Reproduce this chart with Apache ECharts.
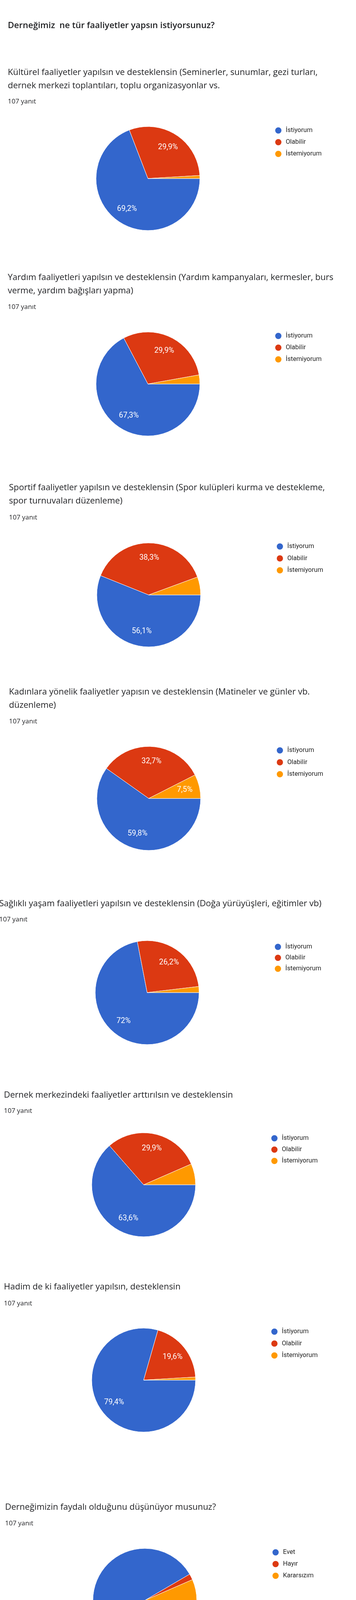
<!DOCTYPE html>
<html>
<head>
<meta charset="utf-8">
<script src="https://cdn.jsdelivr.net/npm/echarts@6/dist/echarts.min.js"></script>
<style>
  html, body { margin: 0; padding: 0; background: #fff; }
  #page { position: relative; width: 912px; height: 5297px; overflow: hidden; }
  .part { position: absolute; left: 0; width: 912px; }
</style>
</head>
<body>
<div id="page"></div>
<script>
// --- data ---
var pageTitle = 'Derneğimiz  ne tür faaliyetler yapsın istiyorsunuz?';

var questions = [
    'Kültürel faaliyetler yapılsın ve desteklensin (Seminerler, sunumlar, gezi turları,\ndernek merkezi toplantıları, toplu organizasyonlar vs.',
    'Yardım faaliyetleri yapılsın ve desteklensin (Yardım kampanyaları, kermesler, burs\nverme, yardım bağışları yapma)',
    'Sportif faaliyetler yapılsın ve desteklensin (Spor kulüpleri kurma ve destekleme,\nspor turnuvaları düzenleme)',
    'Kadınlara yönelik faaliyetler yapısın ve desteklensin (Matineler ve günler vb.\ndüzenleme)',
    'Sağlıklı yaşam faaliyetleri yapılsın ve desteklensin (Doğa yürüyüşleri, eğitimler vb)',
    'Dernek merkezindeki faaliyetler arttırılsın ve desteklensin',
    'Hadim de ki faaliyetler yapılsın, desteklensin',
    'Derneğimizin faydalı olduğunu düşünüyor musunuz?',
    'Derneğimize üye misiniz?',
    'Katılan Üye'
];
var responses = ['107 yanıt', '107 yanıt', '107 yanıt', '107 yanıt', '107 yanıt',
                 '107 yanıt', '107 yanıt', '107 yanıt', '99 yanıt', ''];

var faaliyetLabels = ['İstiyorum', 'Olabilir', 'İstemiyorum'];
var faydaLabels = ['Evet', 'Hayır', 'Kararsızım'];
var uyeLabels = ['Evet', 'Hayır'];
var katilanLabels = ['Katılan', 'Katılmayan'];

var kulturel = [74, 32, 1];
var yardim = [72, 32, 3];
var sportif = [60, 41, 6];
var kadin = [64, 35, 8];
var saglik = [77, 28, 2];
var merkez = [68, 32, 7];
var hadim = [85, 21, 1];
var fayda = [98, 2, 7];
var uye = [60, 39];
var katilan = [60, 241];

var chartNames = [faaliyetLabels, faaliyetLabels, faaliyetLabels, faaliyetLabels, faaliyetLabels,
                  faaliyetLabels, faaliyetLabels, faydaLabels, uyeLabels, katilanLabels];
var chartValues = [kulturel, yardim, sportif, kadin, saglik, merkez, hadim, fayda, uye, katilan];

// --- layout (page pixels) ---
var bounds = [0, 600, 1180, 1720, 2270, 2770, 3260, 3800, 4360, 4880, 5297];
var layout = [
    {x: 20, q: 169, n: 250, cx: 379, cy: 457, lx: 703, ly: 324, gap: 10},
    {x: 20, q: 694, n: 776, cx: 379, cy: 983, lx: 703, ly: 850, gap: 10},
    {x: 23, q: 1232, n: 1315, cx: 381, cy: 1523, lx: 707, ly: 1389, gap: 10.5},
    {x: 23, q: 1755, n: 1837, cx: 381, cy: 2044, lx: 707, ly: 1911, gap: 10.5},
    {x: -2, q: 2297, n: 2344, cx: 377, cy: 2541, lx: 702, ly: 2414, gap: 8},
    {x: 10, q: 2787, n: 2834, cx: 368, cy: 3033, lx: 693, ly: 2904, gap: 9},
    {x: 10, q: 3278, n: 3327, cx: 368, cy: 3533, lx: 693, ly: 3399, gap: 10.5},
    {x: 13, q: 3842, n: 3890, cx: 371, cy: 4097, lx: 696, ly: 3964, gap: 10},
    {x: 12, q: 4385, n: 4433, cx: 370, cy: 4639, lx: 695, ly: 4506, gap: 10},
    {x: 18, q: 4919, n: 0, cx: 355, cy: 5129, lx: 697, ly: 5008, gap: 19}
];

var googleColors = ['#3366cc', '#dc3912', '#ff9900'];
var excelColors = ['#0070c0', '#ff0000'];

function pctText(v, total) {
    var p = Math.round(v / total * 1000) / 10;
    return String(p).replace('.', ',') + '%';
}

var page = document.getElementById('page');

chartValues.forEach(function (vals, i) {
    var L = layout[i];
    var top0 = bounds[i];
    var names = chartNames[i];
    var excel = (i === 9);
    var colors = excel ? excelColors : googleColors;
    var total = vals.reduce(function (a, b) { return a + b; }, 0);
    var r = excel ? 132 : 133;

    var div = document.createElement('div');
    div.className = 'part';
    div.style.top = top0 + 'px';
    div.style.height = (bounds[i + 1] - top0) + 'px';
    page.appendChild(div);

    var titles = [];
    if (i === 0) {
        titles.push({
            text: pageTitle, left: 20, top: 52, padding: 0,
            textStyle: {fontFamily: 'Open Sans', fontSize: 22, fontWeight: 600, lineHeight: 28, color: '#202124'}
        });
    }
    titles.push({
        text: questions[i], left: L.x, top: L.q - top0, padding: 0,
        textStyle: excel
            ? {fontFamily: 'Open Sans', fontSize: 20, fontWeight: 'normal', lineHeight: 28, color: '#595959'}
            : {fontFamily: 'Open Sans', fontSize: 22, fontWeight: 'normal', lineHeight: 34, color: '#202124'}
    });
    if (responses[i]) {
        titles.push({
            text: responses[i], left: L.x, top: L.n - top0, padding: 0,
            textStyle: {fontFamily: 'Open Sans', fontSize: 17, fontWeight: 'normal', lineHeight: 20, color: '#202124'}
        });
    }

    var data = vals.map(function (v, k) {
        return {name: names[k], value: v, itemStyle: {color: colors[k]}};
    });

    var chart = echarts.init(div);
    chart.setOption({
        animation: false,
        backgroundColor: '#ffffff',
        title: titles,
        tooltip: {show: false},
        legend: {
            orient: 'vertical', left: L.lx, top: L.ly - top0, padding: 0,
            data: names, icon: 'circle',
            itemWidth: 18, itemHeight: 18, itemGap: L.gap,
            selectedMode: false,
            textStyle: excel
                ? {fontFamily: 'Open Sans', fontSize: 17, color: '#404040', padding: [0, 0, 0, 4]}
                : {fontFamily: 'Roboto', fontSize: 16.5, color: '#222222', padding: [0, 0, 0, 5]}
        },
        series: [{
            type: 'pie',
            center: [L.cx, L.cy - top0],
            radius: [0, r],
            startAngle: excel ? 90 : 0,
            clockwise: true,
            silent: true,
            label: {show: false},
            labelLine: {show: false},
            itemStyle: {borderColor: '#ffffff', borderWidth: excel ? 2 : 1},
            emphasis: {disabled: true},
            data: data
        }, {
            // transparent ring, only places the slice texts further out like the picture
            type: 'pie',
            center: [L.cx, L.cy - top0],
            radius: [r * (excel ? 0.55 : 0.38), r],
            startAngle: excel ? 90 : 0,
            clockwise: true,
            silent: true,
            itemStyle: {color: 'rgba(0,0,0,0)', borderWidth: 0},
            emphasis: {disabled: true},
            labelLine: {show: false},
            label: {
                show: true,
                position: 'inside',
                fontFamily: excel ? 'Open Sans' : 'Roboto',
                fontSize: excel ? 24 : 19.5,
                color: excel ? '#404040' : '#ffffff',
                formatter: function (p) {
                    if (excel) return String(p.value);
                    return (p.value / total * 100 >= 7) ? pctText(p.value, total) : '';
                }
            },
            data: vals.map(function (v, k) { return {name: names[k], value: v}; })
        }]
    });
});
</script>
</body>
</html>
